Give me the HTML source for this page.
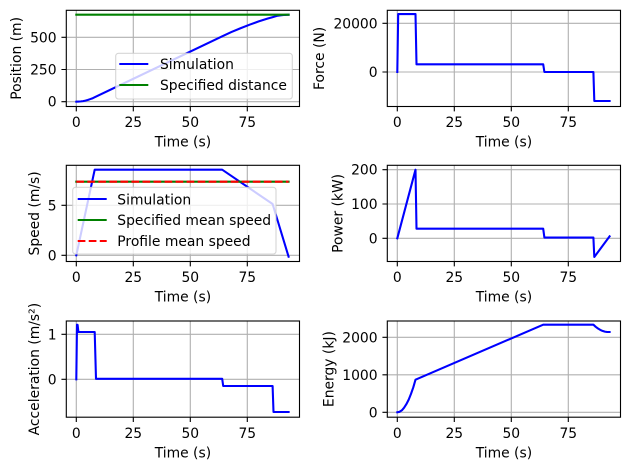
<!DOCTYPE html>
<html><head><meta charset="utf-8">
<style>
html,body{margin:0;padding:0;background:#fff;}
svg{display:block;}
text{font-family:"DejaVu Sans","Liberation Sans",sans-serif;font-size:13.89px;fill:#000;}
.g{stroke:#b0b0b0;stroke-width:1.11;fill:none;}
.sp{fill:none;stroke:#000;stroke-width:1.11;}
.tk{stroke:#000;stroke-width:1.11;}
.b{fill:none;stroke:#0000ff;stroke-width:2.08;stroke-linejoin:round;stroke-linecap:square;}
.gr{fill:none;stroke:#008000;stroke-width:2.08;stroke-linecap:square;}
.rd{fill:none;stroke:#ff0000;stroke-width:2.08;stroke-dasharray:7.7 3.33;}
.lg{fill:#fff;fill-opacity:0.8;stroke:#cccccc;stroke-opacity:0.8;stroke-width:1.11;}
.e{text-anchor:end;}
.m{text-anchor:middle;}
</style></head>
<body>
<svg width="630" height="470" viewBox="0 0 630 470" xmlns="http://www.w3.org/2000/svg">
<rect width="630" height="470" fill="#fff"/>

<!-- ===== Top-left: Position ===== -->
<g>
<path class="g" d="M76.3,10.3V106.5M133.3,10.3V106.5M190.3,10.3V106.5M247.3,10.3V106.5M66.3,101.7H299.5M66.3,69.5H299.5M66.3,37.3H299.5"/>
<path class="b" d="M76.3,101.7L78.6,101.6L80.9,101.4L83.1,101.1L85.4,100.6L87.7,100.0L90.0,99.2L92.3,98.4L94.5,97.35L222.2,36.3L231.3,32.1L240.5,28.25L249.6,24.7L258.7,21.4L267.8,18.5L272.4,17.2L276.9,15.9L281.5,15.2L285,14.9L288.6,14.75"/>
<path class="gr" d="M76.3,14.7H288.6"/>
<rect class="sp" x="66.3" y="10.3" width="233.2" height="96.2"/>
<path class="tk" d="M76.3,106.5v4.86M133.3,106.5v4.86M190.3,106.5v4.86M247.3,106.5v4.86M66.3,101.7h-4.86M66.3,69.5h-4.86M66.3,37.3h-4.86"/>
<text class="m" x="76.3" y="127.2">0</text>
<text class="m" x="133.3" y="127.2">25</text>
<text class="m" x="190.3" y="127.2">50</text>
<text class="m" x="247.3" y="127.2">75</text>
<text class="e" x="56.6" y="106.7">0</text>
<text class="e" x="56.6" y="74.5">250</text>
<text class="e" x="56.6" y="42.3">500</text>
<text class="m" x="182.9" y="146.6">Time (s)</text>
<text class="m" transform="translate(20.8,58.4) rotate(-90)">Position (m)</text>
<rect class="lg" x="115.7" y="53.3" width="176.6" height="45.7" rx="2.8"/>
<path class="b" d="M119.3,64H148.3" style="stroke-linecap:butt"/>
<path class="gr" d="M119.3,85H148.3" style="stroke-linecap:butt"/>
<text x="160" y="69">Simulation</text>
<text x="160" y="90">Specified distance</text>
</g>

<!-- ===== Top-right: Force ===== -->
<g>
<path class="g" d="M397.3,10.3V106.5M454.3,10.3V106.5M511.3,10.3V106.5M568.3,10.3V106.5M387.3,72H620.5M387.3,23.3H620.5"/>
<path class="b" d="M397.3,72L398.2,14.05L415.5,14.05L416.5,64.3L543.2,64.3L544.4,72L593.4,72L594.3,101L609.6,101"/>
<rect class="sp" x="387.3" y="10.3" width="233.2" height="96.2"/>
<path class="tk" d="M397.3,106.5v4.86M454.3,106.5v4.86M511.3,106.5v4.86M568.3,106.5v4.86M387.3,72h-4.86M387.3,23.3h-4.86"/>
<text class="m" x="397.3" y="127.2">0</text>
<text class="m" x="454.3" y="127.2">25</text>
<text class="m" x="511.3" y="127.2">50</text>
<text class="m" x="568.3" y="127.2">75</text>
<text class="e" x="377.6" y="77">0</text>
<text class="e" x="377.6" y="28.3">20000</text>
<text class="m" x="503.9" y="146.6">Time (s)</text>
<text class="m" transform="translate(323.8,58.4) rotate(-90)">Force (N)</text>
</g>

<!-- ===== Mid-left: Speed ===== -->
<g>
<path class="g" d="M76.3,165.3V261.5M133.3,165.3V261.5M190.3,165.3V261.5M247.3,165.3V261.5M66.3,255.3H299.5M66.3,205.3H299.5"/>
<path class="b" d="M76.3,255.3L94.7,169.7L222.2,169.7L272.6,204L288.6,256.7"/>
<path class="gr" d="M76.3,181.7H288.6"/>
<path class="rd" d="M76.3,181.7H288.6"/>
<rect class="sp" x="66.3" y="165.3" width="233.2" height="96.2"/>
<path class="tk" d="M76.3,261.5v4.86M133.3,261.5v4.86M190.3,261.5v4.86M247.3,261.5v4.86M66.3,255.3h-4.86M66.3,205.3h-4.86"/>
<text class="m" x="76.3" y="282.2">0</text>
<text class="m" x="133.3" y="282.2">25</text>
<text class="m" x="190.3" y="282.2">50</text>
<text class="m" x="247.3" y="282.2">75</text>
<text class="e" x="56.6" y="260.3">0</text>
<text class="e" x="56.6" y="210.3">5</text>
<text class="m" x="182.9" y="301.6">Time (s)</text>
<text class="m" transform="translate(39.1,213.4) rotate(-90)">Speed (m/s)</text>
<rect class="lg" x="72.7" y="187.3" width="203.3" height="66.7" rx="2.8"/>
<path class="b" d="M77.7,199H106.7" style="stroke-linecap:butt"/>
<path class="gr" d="M77.7,220H106.7" style="stroke-linecap:butt"/>
<path class="rd" d="M77.7,241H106.7"/>
<text x="117.3" y="204.4">Simulation</text>
<text x="117.3" y="225.2">Specified mean speed</text>
<text x="117.3" y="246.2">Profile mean speed</text>
</g>

<!-- ===== Mid-right: Power ===== -->
<g>
<path class="g" d="M397.3,165.3V261.5M454.3,165.3V261.5M511.3,165.3V261.5M568.3,165.3V261.5M387.3,238.3H620.5M387.3,204H620.5M387.3,169.7H620.5"/>
<path class="b" d="M397.3,238.3L415.5,169.7L416.5,228.7L543.2,228.7L544.4,237.6L593.4,237.6L594.3,257L609.6,236.3"/>
<rect class="sp" x="387.3" y="165.3" width="233.2" height="96.2"/>
<path class="tk" d="M397.3,261.5v4.86M454.3,261.5v4.86M511.3,261.5v4.86M568.3,261.5v4.86M387.3,238.3h-4.86M387.3,204h-4.86M387.3,169.7h-4.86"/>
<text class="m" x="397.3" y="282.2">0</text>
<text class="m" x="454.3" y="282.2">25</text>
<text class="m" x="511.3" y="282.2">50</text>
<text class="m" x="568.3" y="282.2">75</text>
<text class="e" x="377.6" y="243.3">0</text>
<text class="e" x="377.6" y="209">100</text>
<text class="e" x="377.6" y="174.7">200</text>
<text class="m" x="503.9" y="301.6">Time (s)</text>
<text class="m" transform="translate(342.6,213.4) rotate(-90)">Power (kW)</text>
</g>

<!-- ===== Bottom-left: Acceleration ===== -->
<g>
<path class="g" d="M76.3,321V417.2M133.3,321V417.2M190.3,321V417.2M247.3,321V417.2M66.3,379.3H299.5M66.3,334.3H299.5"/>
<path class="b" d="M76.3,379.3L77,324.7L77.6,324.9L78.4,332L94.7,332L96,378.8L222.2,378.8L223.2,386L272.6,386L273.5,412L288.6,412"/>
<rect class="sp" x="66.3" y="321" width="233.2" height="96.2"/>
<path class="tk" d="M76.3,417.2v4.86M133.3,417.2v4.86M190.3,417.2v4.86M247.3,417.2v4.86M66.3,379.3h-4.86M66.3,334.3h-4.86"/>
<text class="m" x="76.3" y="437.9">0</text>
<text class="m" x="133.3" y="437.9">25</text>
<text class="m" x="190.3" y="437.9">50</text>
<text class="m" x="247.3" y="437.9">75</text>
<text class="e" x="56.6" y="384.3">0</text>
<text class="e" x="56.6" y="339.3">1</text>
<text class="m" x="182.9" y="457.3">Time (s)</text>
<text class="m" transform="translate(39.1,369.1) rotate(-90)">Acceleration (m/s²)</text>
</g>

<!-- ===== Bottom-right: Energy ===== -->
<g>
<path class="g" d="M397.3,321V417.2M454.3,321V417.2M511.3,321V417.2M568.3,321V417.2M387.3,412.3H620.5M387.3,374.8H620.5M387.3,337.3H620.5"/>
<path class="b" d="M397.3,412.3L399.6,411.8L401.9,410.3L404.1,407.7L406.4,404.1L408.7,399.6L411,393.9L413.3,387.3L415.5,379.7L543.2,324.7L593.4,324.7L595.7,326.8L598,328.5L600.3,329.9L602.5,330.9L604.8,331.6L607.1,332L609.6,332"/>
<rect class="sp" x="387.3" y="321" width="233.2" height="96.2"/>
<path class="tk" d="M397.3,417.2v4.86M454.3,417.2v4.86M511.3,417.2v4.86M568.3,417.2v4.86M387.3,412.3h-4.86M387.3,374.8h-4.86M387.3,337.3h-4.86"/>
<text class="m" x="397.3" y="437.9">0</text>
<text class="m" x="454.3" y="437.9">25</text>
<text class="m" x="511.3" y="437.9">50</text>
<text class="m" x="568.3" y="437.9">75</text>
<text class="e" x="377.6" y="417.3">0</text>
<text class="e" x="377.6" y="379.8">1000</text>
<text class="e" x="377.6" y="342.3">2000</text>
<text class="m" x="503.9" y="457.3">Time (s)</text>
<text class="m" transform="translate(333.4,369.1) rotate(-90)">Energy (kJ)</text>
</g>
</svg>
</body></html>
